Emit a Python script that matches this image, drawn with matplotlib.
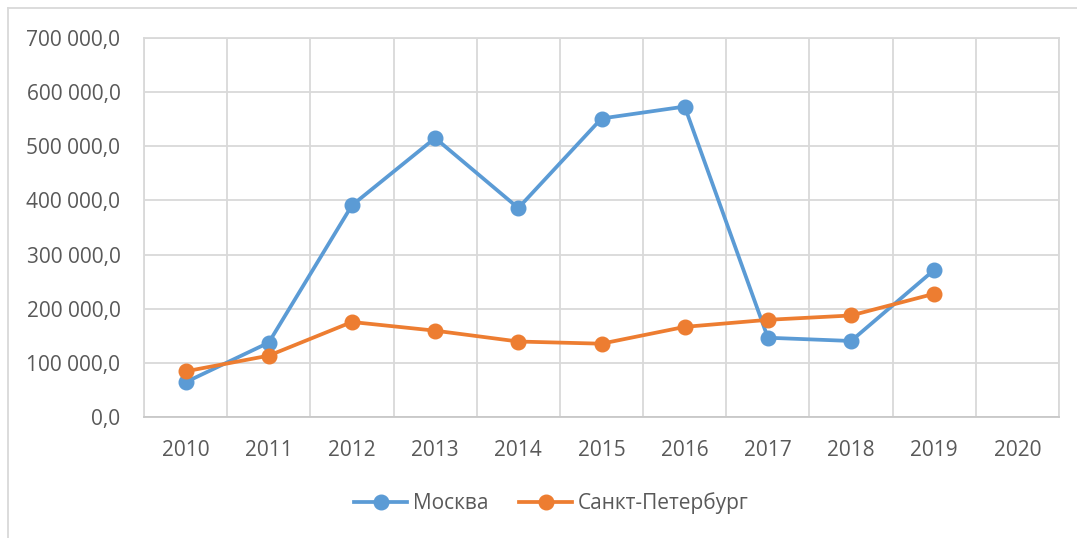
import numpy as np
import matplotlib
matplotlib.use('Agg')
import matplotlib.pyplot as plt
from matplotlib.lines import Line2D
from matplotlib.ticker import FuncFormatter

## data
years = ['2010', '2011', '2012', '2013', '2014', '2015', '2016', '2017', '2018', '2019', '2020']
moscow = [65000, 138000, 391000, 515000, 386000, 551000, 573000, 147000, 141000, 272000]
spb = [85000, 114000, 176000, 160000, 140000, 136000, 167000, 180000, 188000, 228000]
names = ['Москва', 'Санкт-Петербург']
colors = ['#5B9BD5', '#ED7D31']

plt.rcParams['font.family'] = ['Open Sans', 'DejaVu Sans']
txt = '#595959'
grid = '#D9D9D9'

fig = plt.figure(figsize=(10.77, 5.38), dpi=100)
ax = fig.add_axes([0.1337, 0.224, 0.9833 - 0.1337, 0.930 - 0.224])

x = np.arange(len(years))
for vals, name, c in zip([moscow, spb], names, colors):
    ax.plot(x[:len(vals)], vals, color=c, lw=2.7, marker='o', ms=10.5,
            label=name, solid_joinstyle='round')

ax.set_xlim(-0.5, len(years) - 0.5)
ax.set_ylim(0, 700000)
ax.set_yticks(np.arange(0, 700001, 100000))
ax.yaxis.set_major_formatter(FuncFormatter(lambda v, p: '{:,.1f}'.format(v).replace(',', ' ').replace('.', ',')))
ax.set_xticks(x)
ax.set_xticklabels(years)
ax.set_xticks(np.arange(-0.5, len(years), 1), minor=True)

ax.grid(True, axis='y', which='major', color=grid, lw=1.3)
ax.grid(True, axis='x', which='minor', color=grid, lw=1.3)
ax.set_axisbelow(True)
for s in ax.spines.values():
    s.set_color(grid)
    s.set_linewidth(1.3)
ax.spines['bottom'].set_color('#C8C8C8')

ax.tick_params(axis='both', which='both', length=0, colors=txt, labelsize=15)
ax.tick_params(axis='y', pad=17)
ax.tick_params(axis='x', pad=16)

fig.legend(loc='center', bbox_to_anchor=(0.512, 0.065), ncol=2, frameon=False,
           fontsize=15, labelcolor=txt, handlelength=2.55, handletextpad=0.25,
           columnspacing=1.5)

# chart area border (only top and left visible in the crop)
fig.add_artist(Line2D([8 / 1077, 8 / 1077], [0, 1 - 8 / 538], transform=fig.transFigure, color=grid, lw=1.3))
fig.add_artist(Line2D([8 / 1077, 1], [1 - 8 / 538, 1 - 8 / 538], transform=fig.transFigure, color=grid, lw=1.3))

fig.savefig('out.png', dpi=100)
